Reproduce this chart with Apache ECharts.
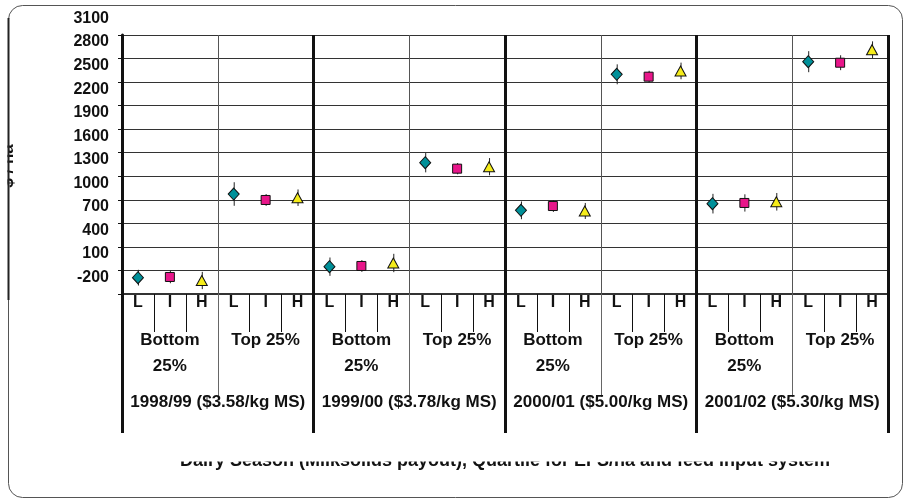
<!DOCTYPE html>
<html>
<head>
<meta charset="utf-8">
<script src="https://cdn.jsdelivr.net/npm/echarts@6/dist/echarts.min.js"></script>
<style>html,body{margin:0;padding:0;background:#fff;}#c{width:904px;height:499px;}</style>
</head>
<body>
<div id="c"></div>
<script>
// ---- data ----
const systems = ['L','I','H','L','I','H','L','I','H','L','I','H','L','I','H','L','I','H','L','I','H','L','I','H'];
const quartiles = ['Bottom\n25%','Top 25%','Bottom\n25%','Top 25%','Bottom\n25%','Top 25%','Bottom\n25%','Top 25%'];
const seasons = ['1998/99 ($3.58/kg MS)','1999/00 ($3.78/kg MS)','2000/01 ($5.00/kg MS)','2001/02 ($5.30/kg MS)'];
// mean EFS/ha per quartile group (8 groups), per feed input system
const lowValues  = [-292, 774, -152, 1173, 566, 2299, 651, 2460];
const lowErr     = [100, 150, 117, 123, 113, 127, 125, 134];
const intValues  = [-283, 698, -143, 1097, 621, 2269, 660, 2447];
const intErr     = [80, 75, 75, 72, 75, 75, 110, 95];
const highValues = [-328, 727, -105, 1122, 558, 2342, 675, 2613];
const highErr    = [110, 105, 117, 110, 102, 106, 112, 106];
const yMin = -500, yMax = 2800, yLabelMax = 3100, yStep = 300;
const yTitle = '$ / ha';
const xTitle = 'Dairy Season (Milksolids payout), Quartile for EFS/ha and feed input system';

const FONT = '"Liberation Sans", Arial, sans-serif';

function pts(vals, offset){ return vals.map((v,g)=>[g*3+offset, v]); }
function bars(vals, errs, offset){ return vals.map((v,g)=>[g*3+offset, v-errs[g], v+errs[g]]); }

function errSeries(vals, errs, offset){
  return {
    type:'custom', xAxisIndex:0, yAxisIndex:0, z:2, clip:false,
    data: bars(vals, errs, offset),
    renderItem:function(params, api){
      const x = api.value(0);
      const a = api.coord([x, api.value(1)]);
      const b = api.coord([x, api.value(2)]);
      return {type:'line', shape:{x1:a[0]+0.5,y1:a[1],x2:b[0]+0.5,y2:b[1]}, style:{stroke:'#222', lineWidth:1}};
    }
  };
}
function markSeries(name, vals, offset, symbol, size, color){
  return {
    type:'scatter', name:name, xAxisIndex:0, yAxisIndex:0, z:3,
    symbol:symbol, symbolSize:size,
    itemStyle:{color:color, borderColor:'#111', borderWidth:1, opacity:1},
    emphasis:{disabled:true},
    data: pts(vals, offset)
  };
}
// quartile divider extensions below the axis (left edge of each "Top 25%" band)
const dividerSeries = {
  type:'custom', xAxisIndex:1, yAxisIndex:0, z:1, clip:false, silent:true,
  data: quartiles.map((q,i)=>[i, yMin]).filter(d=>d[0]%2===1),
  renderItem:function(params, api){
    const c = api.coord([api.value(0), api.value(1)]);
    const bw = api.size([1,0])[0];
    const x = Math.round(c[0] - bw/2) + 0.5;
    return {type:'line', shape:{x1:x, y1:c[1], x2:x, y2:c[1]+103}, style:{stroke:'#666', lineWidth:1}};
  }
};

const chart = echarts.init(document.getElementById('c'));
chart.setOption({
  animation:false,
  backgroundColor:'#fff',
  grid:[
    {left:122, right:16, top:35, bottom:205, outerBoundsMode:'none', containLabel:false},
    {left:122, right:16, top:18.5, bottom:198, outerBoundsMode:'none', containLabel:false}
  ],
  xAxis:[
    {gridIndex:0, type:'category', position:'bottom', data:systems, boundaryGap:true,
     axisLine:{show:true, onZero:false, lineStyle:{color:'#333', width:2}},
     axisTick:{show:true, interval:0, length:38, lineStyle:{color:'#111', width:1}},
     axisLabel:{interval:0, margin:1, fontSize:16, fontWeight:'bold', color:'#111', fontFamily:FONT, lineHeight:16},
     splitLine:{show:false}},
    {gridIndex:0, type:'category', position:'bottom', offset:0, data:quartiles, boundaryGap:true, z:1,
     axisLine:{show:false},
     axisTick:{show:false},
     axisLabel:{interval:0, margin:34, fontSize:17, fontWeight:'bold', color:'#111', fontFamily:FONT, lineHeight:25.5},
     splitLine:{show:true, interval:0, lineStyle:{color:'#555', width:1}}},
    {gridIndex:0, type:'category', position:'bottom', offset:0, data:seasons, boundaryGap:true, z:2,
     axisLine:{show:false},
     axisTick:{show:true, interval:0, length:139, lineStyle:{color:'#111', width:3}},
     axisLabel:{interval:0, margin:98, fontSize:17, fontWeight:'bold', color:'#111', fontFamily:FONT, lineHeight:20},
     splitLine:{show:true, interval:0, lineStyle:{color:'#111', width:3}}},
    {gridIndex:1, type:'category', data:[''], show:false}
  ],
  yAxis:[
    {gridIndex:0, type:'value', min:yMin, max:yMax, interval:yStep,
     axisLine:{show:true, lineStyle:{color:'#111', width:3}},
     axisTick:{show:true, length:4, lineStyle:{color:'#111', width:1}},
     axisLabel:{show:false},
     splitLine:{show:true, lineStyle:{color:'#333', width:1}}},
    {gridIndex:1, type:'value', min:yMin, max:yLabelMax, interval:yStep,
     axisLine:{show:false}, axisTick:{show:false}, splitLine:{show:false},
     axisLabel:{show:true, margin:13, fontSize:16, fontWeight:'bold', color:'#111', fontFamily:FONT,
       formatter:function(v){ return v === yMin ? '' : String(v); }}}
  ],
  series:[
    dividerSeries,
    errSeries(lowValues, lowErr, 0),
    errSeries(intValues, intErr, 1),
    errSeries(highValues, highErr, 2),
    markSeries('L', lowValues, 0, 'diamond', [11,12], '#009099'),
    markSeries('I', intValues, 1, 'rect', [9,9], '#E8168A'),
    markSeries('H', highValues, 2, 'triangle', [11,10], '#F5EC1A')
  ],
  graphic:[
    {type:'text', x:8.5, y:166, rotation:Math.PI/2, z:100,
     style:{text:yTitle, font:'bold 17px ' + FONT, fill:'#111', align:'center', verticalAlign:'middle'}},
    {type:'rect', shape:{x:0, y:100, width:7.5, height:140}, style:{fill:'#fff'}, z:101},
    {type:'text', x:505, y:461, z:100,
     style:{text:xTitle, font:'bold 18px ' + FONT, fill:'#111', align:'center', verticalAlign:'middle'}},
    {type:'rect', shape:{x:130, y:437, width:740, height:24.5}, style:{fill:'#fff'}, z:101},
    {type:'rect', shape:{x:8.5, y:5.5, width:894, height:492, r:14}, style:{fill:'none', stroke:'#555', lineWidth:1}, z:102},
    {type:'line', shape:{x1:8.5, y1:18, x2:8.5, y2:300}, style:{stroke:'#222', lineWidth:2}, z:102}
  ]
});
</script>
</body>
</html>
